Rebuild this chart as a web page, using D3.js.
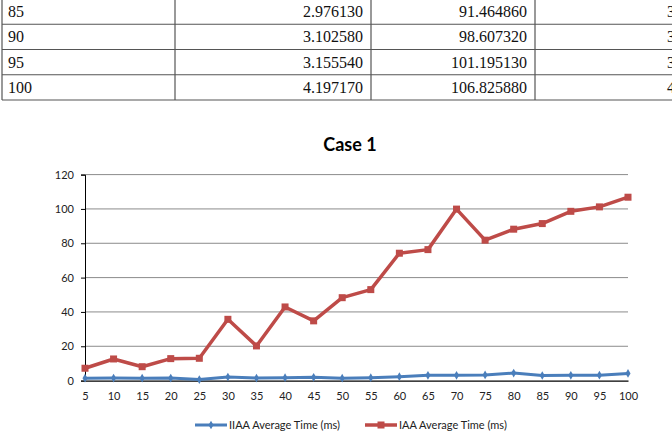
<!DOCTYPE html>
<html><head><meta charset="utf-8">
<script src="https://cdn.jsdelivr.net/npm/d3@7"></script>
<style>body{margin:0;background:#fff;}svg{display:block;}</style>
</head><body>
<svg id="c" width="672" height="446"></svg>
<script>
// Table rows (partial, visible at top)
const tableRows = ["85", "90", "95", "100"];
const tableIIAA = ["2.976130", "3.102580", "3.155540", "4.197170"];
const tableIAA = ["91.464860", "98.607320", "101.195130", "106.825880"];
const tableCol4 = ["3", "3", "3", "4"];

// Chart data
const categories = [5,10,15,20,25,30,35,40,45,50,55,60,65,70,75,80,85,90,95,100];
const iiaa = [1.4,1.5,1.4,1.5,0.6,2.1,1.5,1.7,1.9,1.4,1.7,2.3,3.1,3.1,3.3,4.4,2.976,3.103,3.156,4.197];
const iaa = [7.2,12.6,8.1,12.8,13.0,35.7,20.2,42.9,34.8,48.3,53.0,74.2,76.3,99.9,81.8,88.2,91.465,98.607,101.195,106.826];
const yTicks = [0,20,40,60,80,100,120];
const seriesNames = ["IIAA Average Time (ms)", "IAA Average Time (ms)"];
const title = "Case 1";

const svg = d3.select("#c");

// ---- Table ----
const tg = svg.append("g");
const rowY = d3.scaleBand().domain(tableRows).range([-1, 100]);
const colX = [2, 175, 371, 535, 700];
tg.selectAll("line.h").data([...tableRows.map(r => rowY(r)), 100]).join("line")
  .attr("x1", 2).attr("x2", 672).attr("y1", d => d).attr("y2", d => d)
  .attr("stroke", "#555").attr("stroke-width", 1.2);
tg.selectAll("line.v").data(colX.slice(0,4)).join("line")
  .attr("x1", d => d).attr("x2", d => d).attr("y1", 0).attr("y2", 100)
  .attr("stroke", "#555").attr("stroke-width", 1.2);
const tFont = "'Liberation Serif','Times New Roman',serif";
const base = d => rowY(d) + rowY.bandwidth()/2 + 5.5;
tg.selectAll("text.c1").data(tableRows).join("text")
  .attr("x", 8).attr("y", d => base(d)).text(d => d)
  .attr("font-family", tFont).attr("font-size", 16).attr("fill", "#111");
tg.selectAll("text.c2").data(tableRows).join("text")
  .attr("x", 363).attr("y", d => base(d)).attr("text-anchor", "end").text((d,i) => tableIIAA[i])
  .attr("font-family", tFont).attr("font-size", 16).attr("fill", "#111");
tg.selectAll("text.c3").data(tableRows).join("text")
  .attr("x", 527).attr("y", d => base(d)).attr("text-anchor", "end").text((d,i) => tableIAA[i])
  .attr("font-family", tFont).attr("font-size", 16).attr("fill", "#111");
tg.selectAll("text.c4").data(tableRows).join("text")
  .attr("x", 667).attr("y", d => base(d)).text((d,i) => tableCol4[i])
  .attr("font-family", tFont).attr("font-size", 16).attr("fill", "#111");

// ---- Chart ----
const cFont = "Lato, 'Open Sans', sans-serif";
const x = d3.scalePoint().domain(categories).range([85, 628]);
const y = d3.scaleLinear().domain([0,120]).range([380.6, 174.6]);

svg.append("text").attr("x", 350).attr("y", 151).attr("text-anchor", "middle")
  .attr("font-family", cFont).attr("font-weight", "bold").attr("font-size", 18)
  .attr("fill", "#000").text(title);

// gridlines
svg.append("g").selectAll("line").data(yTicks.filter(d => d > 0)).join("line")
  .attr("x1", 85).attr("x2", 628).attr("y1", d => y(d)).attr("y2", d => y(d))
  .attr("stroke", "#8c8c8c").attr("stroke-width", 1);

// y axis
const ya = svg.append("g").attr("transform", "translate(85,0)")
  .call(d3.axisLeft(y).tickValues(yTicks).tickSize(4).tickPadding(7));
ya.select(".domain").attr("stroke", "#000");
ya.selectAll(".tick line").attr("stroke", "#000");
ya.selectAll("text").attr("font-family", cFont).attr("font-size", 11).attr("fill", "#222");

// x axis
const xa = svg.append("g").attr("transform", "translate(0,380.6)")
  .call(d3.axisBottom(x).tickSize(0).tickPadding(12));
xa.select(".domain").attr("stroke", "#000").attr("stroke-width", 1.2);
xa.selectAll("text").attr("font-family", cFont).attr("font-size", 11).attr("fill", "#222");

const line = d3.line().x((d,i) => x(categories[i])).y(d => y(d));
const blue = "#4a7ebb", red = "#be4b48";

// red series
svg.append("path").datum(iaa).attr("d", line).attr("fill", "none")
  .attr("stroke", red).attr("stroke-width", 3.5).attr("stroke-linejoin", "round");
svg.append("g").selectAll("rect").data(iaa).join("rect")
  .attr("x", (d,i) => x(categories[i]) - 3.5).attr("y", d => y(d) - 3.5)
  .attr("width", 7).attr("height", 7).attr("fill", red);

// blue series
svg.append("path").datum(iiaa).attr("d", line).attr("fill", "none")
  .attr("stroke", blue).attr("stroke-width", 3).attr("stroke-linejoin", "round");
svg.append("g").selectAll("path").data(iiaa).join("path")
  .attr("d", d3.symbol(d3.symbolDiamond, 22))
  .attr("transform", (d,i) => `translate(${x(categories[i])},${y(d)})`).attr("fill", blue);

// legend
const lg = svg.append("g");
const legendItems = [{name: seriesNames[0], color: blue, x0: 195, sym: "d"}, {name: seriesNames[1], color: red, x0: 365, sym: "s"}];
legendItems.forEach(it => {
  lg.append("line").attr("x1", it.x0).attr("x2", it.x0 + 32).attr("y1", 425).attr("y2", 425)
    .attr("stroke", it.color).attr("stroke-width", it.sym === "s" ? 3.5 : 3);
  if (it.sym === "s") lg.append("rect").attr("x", it.x0 + 16 - 3.5).attr("y", 421.5).attr("width", 7).attr("height", 7).attr("fill", it.color);
  else lg.append("path").attr("d", d3.symbol(d3.symbolDiamond, 22)).attr("transform", `translate(${it.x0+16},425)`).attr("fill", it.color);
  lg.append("text").attr("x", it.x0 + 34).attr("y", 429).text(it.name)
    .attr("font-family", cFont).attr("font-size", 11).attr("fill", "#222");
});
</script>
</body></html>
